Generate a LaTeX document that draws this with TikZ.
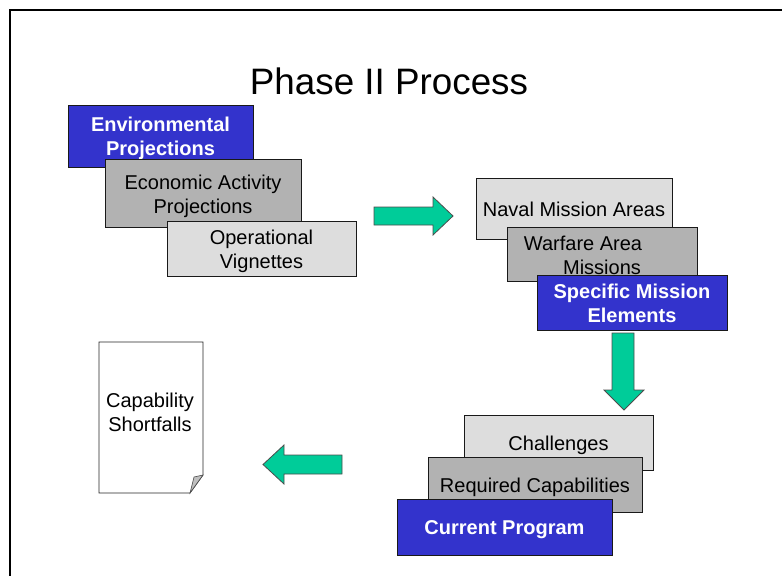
\documentclass[tikz,border=0pt]{standalone}
\usepackage{fontspec}
\setmainfont{Liberation Sans}
\usetikzlibrary{positioning}
\definecolor{deepblue}{RGB}{51, 51, 204}
\definecolor{midgray}{RGB}{178, 178, 178}
\definecolor{palegray}{RGB}{221, 221, 221}
\definecolor{seagreen}{RGB}{0, 204, 153}

\begin{document}
\begin{tikzpicture}[
                x=1pt, y=-1pt,
                box/.style={rectangle, draw=black!90, line width=0.8pt,
                    inner sep=0pt, align=center, text height=15.5pt,
                    text depth=0pt, font=\fontsize{20}{24}\selectfont},
                twolines/.style={text height=39.5pt, text depth=0pt},
                bluebox/.style={box, fill=deepblue, text=white,
                    font=\fontsize{20}{24}\selectfont\bfseries},
                graybox/.style={box, fill=midgray},
                lightbox/.style={box, fill=palegray},
                bigarrow/.style={fill=seagreen, draw=black!70, line width=0.8pt,
                    line join=miter}
                ]
                \useasboundingbox (0,0) rectangle (782,576);
                % frame
                \draw[line width=1.6pt] (782,10) -- (10,10) -- (10,576);
                \node[font=\fontsize{36.8}{44}\selectfont] (title) at (389,81.5)
                    {Phase II Process};
                % left stack
                \node[bluebox, twolines, minimum width=185, minimum height=62] (env)
                    at (160.5,136) {Environmental\\Projections};
                \node[graybox, twolines, minimum width=196, minimum height=68] (econ)
                    at (203,193.5) {Economic Activity\\Projections};
                \node[lightbox, twolines, minimum width=189, minimum height=55] (oper)
                    at (261.5,248.5) {Operational\\Vignettes};
                % right stack
                \node[lightbox, minimum width=196, minimum height=61] (naval)
                    at (574,208.5) {Naval Mission Areas};
                \node[graybox, twolines, minimum width=190, minimum height=54] (warfare)
                    at (602,254.5) {Warfare Area\makebox[38pt]{}\\Missions};
                \node[bluebox, twolines, minimum width=190, minimum height=55] (specific)
                    at (632,302.5) {Specific Mission\\Elements};
                % bottom stack
                \node[lightbox, minimum width=189, minimum height=55] (chall)
                    at (558.5,442.5) {Challenges};
                \node[graybox, minimum width=214, minimum height=55] (reqcap)
                    at (535,484.5) {Required Capabilities};
                \node[bluebox, minimum width=215, minimum height=56] (current)
                    at (504.5,527) {Current Program};
                % shortfall page
                \draw[line width=0.8pt, draw=black!85, fill=white]
                    (99,342) -- (203,342) -- (203,475) -- (190,493) -- (99,493) -- cycle;
                \filldraw[line width=0.6pt, draw=black!70, fill=black!25]
                    (190,493) -- (194,477) -- (203,475) -- cycle;
                \node[align=center, text height=39.5pt, text depth=0pt,
                    font=\fontsize{20}{24}\selectfont] (short)
                    at (150,411.5) {Capability\\Shortfalls};
                % block arrows
                \draw[bigarrow] (374,207) -- (433,207) -- (433,197) -- (453,216)
                    -- (433,235) -- (433,225) -- (374,225) -- cycle;
                \draw[bigarrow] (612,333) -- (634,333) -- (634,390) -- (644,390)
                    -- (624,410) -- (604,390) -- (612,390) -- cycle;
                \draw[bigarrow] (342,455) -- (284,455) -- (284,445) -- (263,464.5)
                    -- (284,484) -- (284,474) -- (342,474) -- cycle;
            \end{tikzpicture}
\end{document}
